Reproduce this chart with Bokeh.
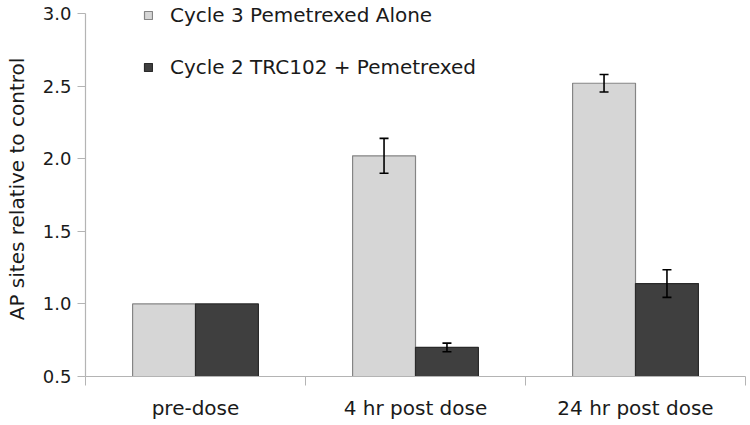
from bokeh.plotting import figure
from bokeh.models import (ColumnDataSource, FixedTicker, Whisker, TeeHead, Legend,
                          LegendItem, Range1d, NumeralTickFormatter)
from bokeh.embed import file_html
from bokeh.resources import INLINE

categories = ["pre-dose", "4 hr post dose", "24 hr post dose"]
series_names = ["Cycle 3 Pemetrexed Alone", "Cycle 2 TRC102 + Pemetrexed"]
alone = [1.0, 2.02, 2.52]
alone_err = [0.0, 0.12, 0.06]
trc = [1.0, 0.70, 1.14]
trc_err = [0.0, 0.03, 0.095]
y_ticks = [0.5, 1.0, 1.5, 2.0, 2.5, 3.0]

FONT = "DejaVu Sans"
TXT = "#1a1a1a"
AXC = "#b4b4b4"
BW = 0.286
Y_HEADROOM = 3.083  # range end above last tick so legend text is not clipped

n = len(categories)
centers = [i + 0.5 for i in range(n)]

p = figure(width=748, height=423, output_backend="svg", toolbar_location=None,
           x_range=Range1d(0, n), y_range=Range1d(y_ticks[0], Y_HEADROOM),
           min_border_left=85, min_border_right=3, min_border_top=1, min_border_bottom=47)
p.outline_line_color = None
p.xgrid.visible = False
p.ygrid.visible = False
p.background_fill_color = "white"
p.border_fill_color = "white"

src_a = ColumnDataSource(dict(x=[c - BW / 2 for c in centers], top=alone))
src_t = ColumnDataSource(dict(x=[c + BW / 2 for c in centers], top=trc))

ra = p.vbar(x="x", top="top", bottom=y_ticks[0], width=BW, source=src_a,
            fill_color="#d6d6d6", line_color="#858585", line_width=1.2)
rt = p.vbar(x="x", top="top", bottom=y_ticks[0], width=BW, source=src_t,
            fill_color="#3f3f3f", line_color="#2a2a2a", line_width=1.2)

def whisk(xs, vals, errs):
    idx = [i for i, e in enumerate(errs) if e > 0]
    s = ColumnDataSource(dict(x=[xs[i] for i in idx],
                              upper=[vals[i] + errs[i] for i in idx],
                              lower=[vals[i] - errs[i] for i in idx]))
    w = Whisker(source=s, base="x", upper="upper", lower="lower", level="overlay",
                line_color="black", line_width=1.6,
                upper_head=TeeHead(size=9, line_width=1.6, line_color="black"),
                lower_head=TeeHead(size=9, line_width=1.6, line_color="black"))
    p.add_layout(w)

whisk(src_a.data["x"], alone, alone_err)
whisk(src_t.data["x"], trc, trc_err)

# x axis
xa = p.xaxis[0]
xa.ticker = FixedTicker(ticks=centers, minor_ticks=list(range(n + 1)))
xa.major_label_overrides = {c: lab for c, lab in zip(centers, categories)}
xa.major_tick_line_color = None
xa.major_tick_out = 0
xa.major_tick_in = 0
xa.minor_tick_out = 9
xa.minor_tick_in = 0
xa.minor_tick_line_color = AXC
xa.axis_line_color = AXC
xa.axis_line_width = 1.2
xa.major_label_text_font = FONT
xa.major_label_text_font_size = "20px"
xa.major_label_text_color = TXT
xa.major_label_standoff = 10

# y axis
ya = p.yaxis[0]
ya.ticker = FixedTicker(ticks=y_ticks, minor_ticks=[])
ya.bounds = (y_ticks[0], y_ticks[-1])
ya.formatter = NumeralTickFormatter(format="0.0")
ya.axis_line_color = AXC
ya.axis_line_width = 1.2
ya.major_tick_line_color = AXC
ya.major_tick_out = 8
ya.major_tick_in = 0
ya.minor_tick_line_color = None
ya.major_label_text_font = FONT
ya.major_label_text_font_size = "18px"
ya.major_label_text_color = TXT
ya.major_label_standoff = 6
ya.axis_label = "AP sites relative to control"
ya.axis_label_text_font = FONT
ya.axis_label_text_font_size = "20px"
ya.axis_label_text_font_style = "normal"
ya.axis_label_text_color = TXT
ya.axis_label_standoff = 11

legend = Legend(items=[LegendItem(label=series_names[0], renderers=[ra]),
                       LegendItem(label=series_names[1], renderers=[rt])],
                location=(58, 297), orientation="vertical",
                glyph_width=10, glyph_height=10, label_standoff=17,
                label_text_font=FONT, label_text_font_size="20px",
                label_text_color=TXT, label_height=20, spacing=28,
                padding=0, margin=0, border_line_color=None,
                background_fill_alpha=0)
p.add_layout(legend)

open("out.html", "w").write(file_html(p, INLINE))
